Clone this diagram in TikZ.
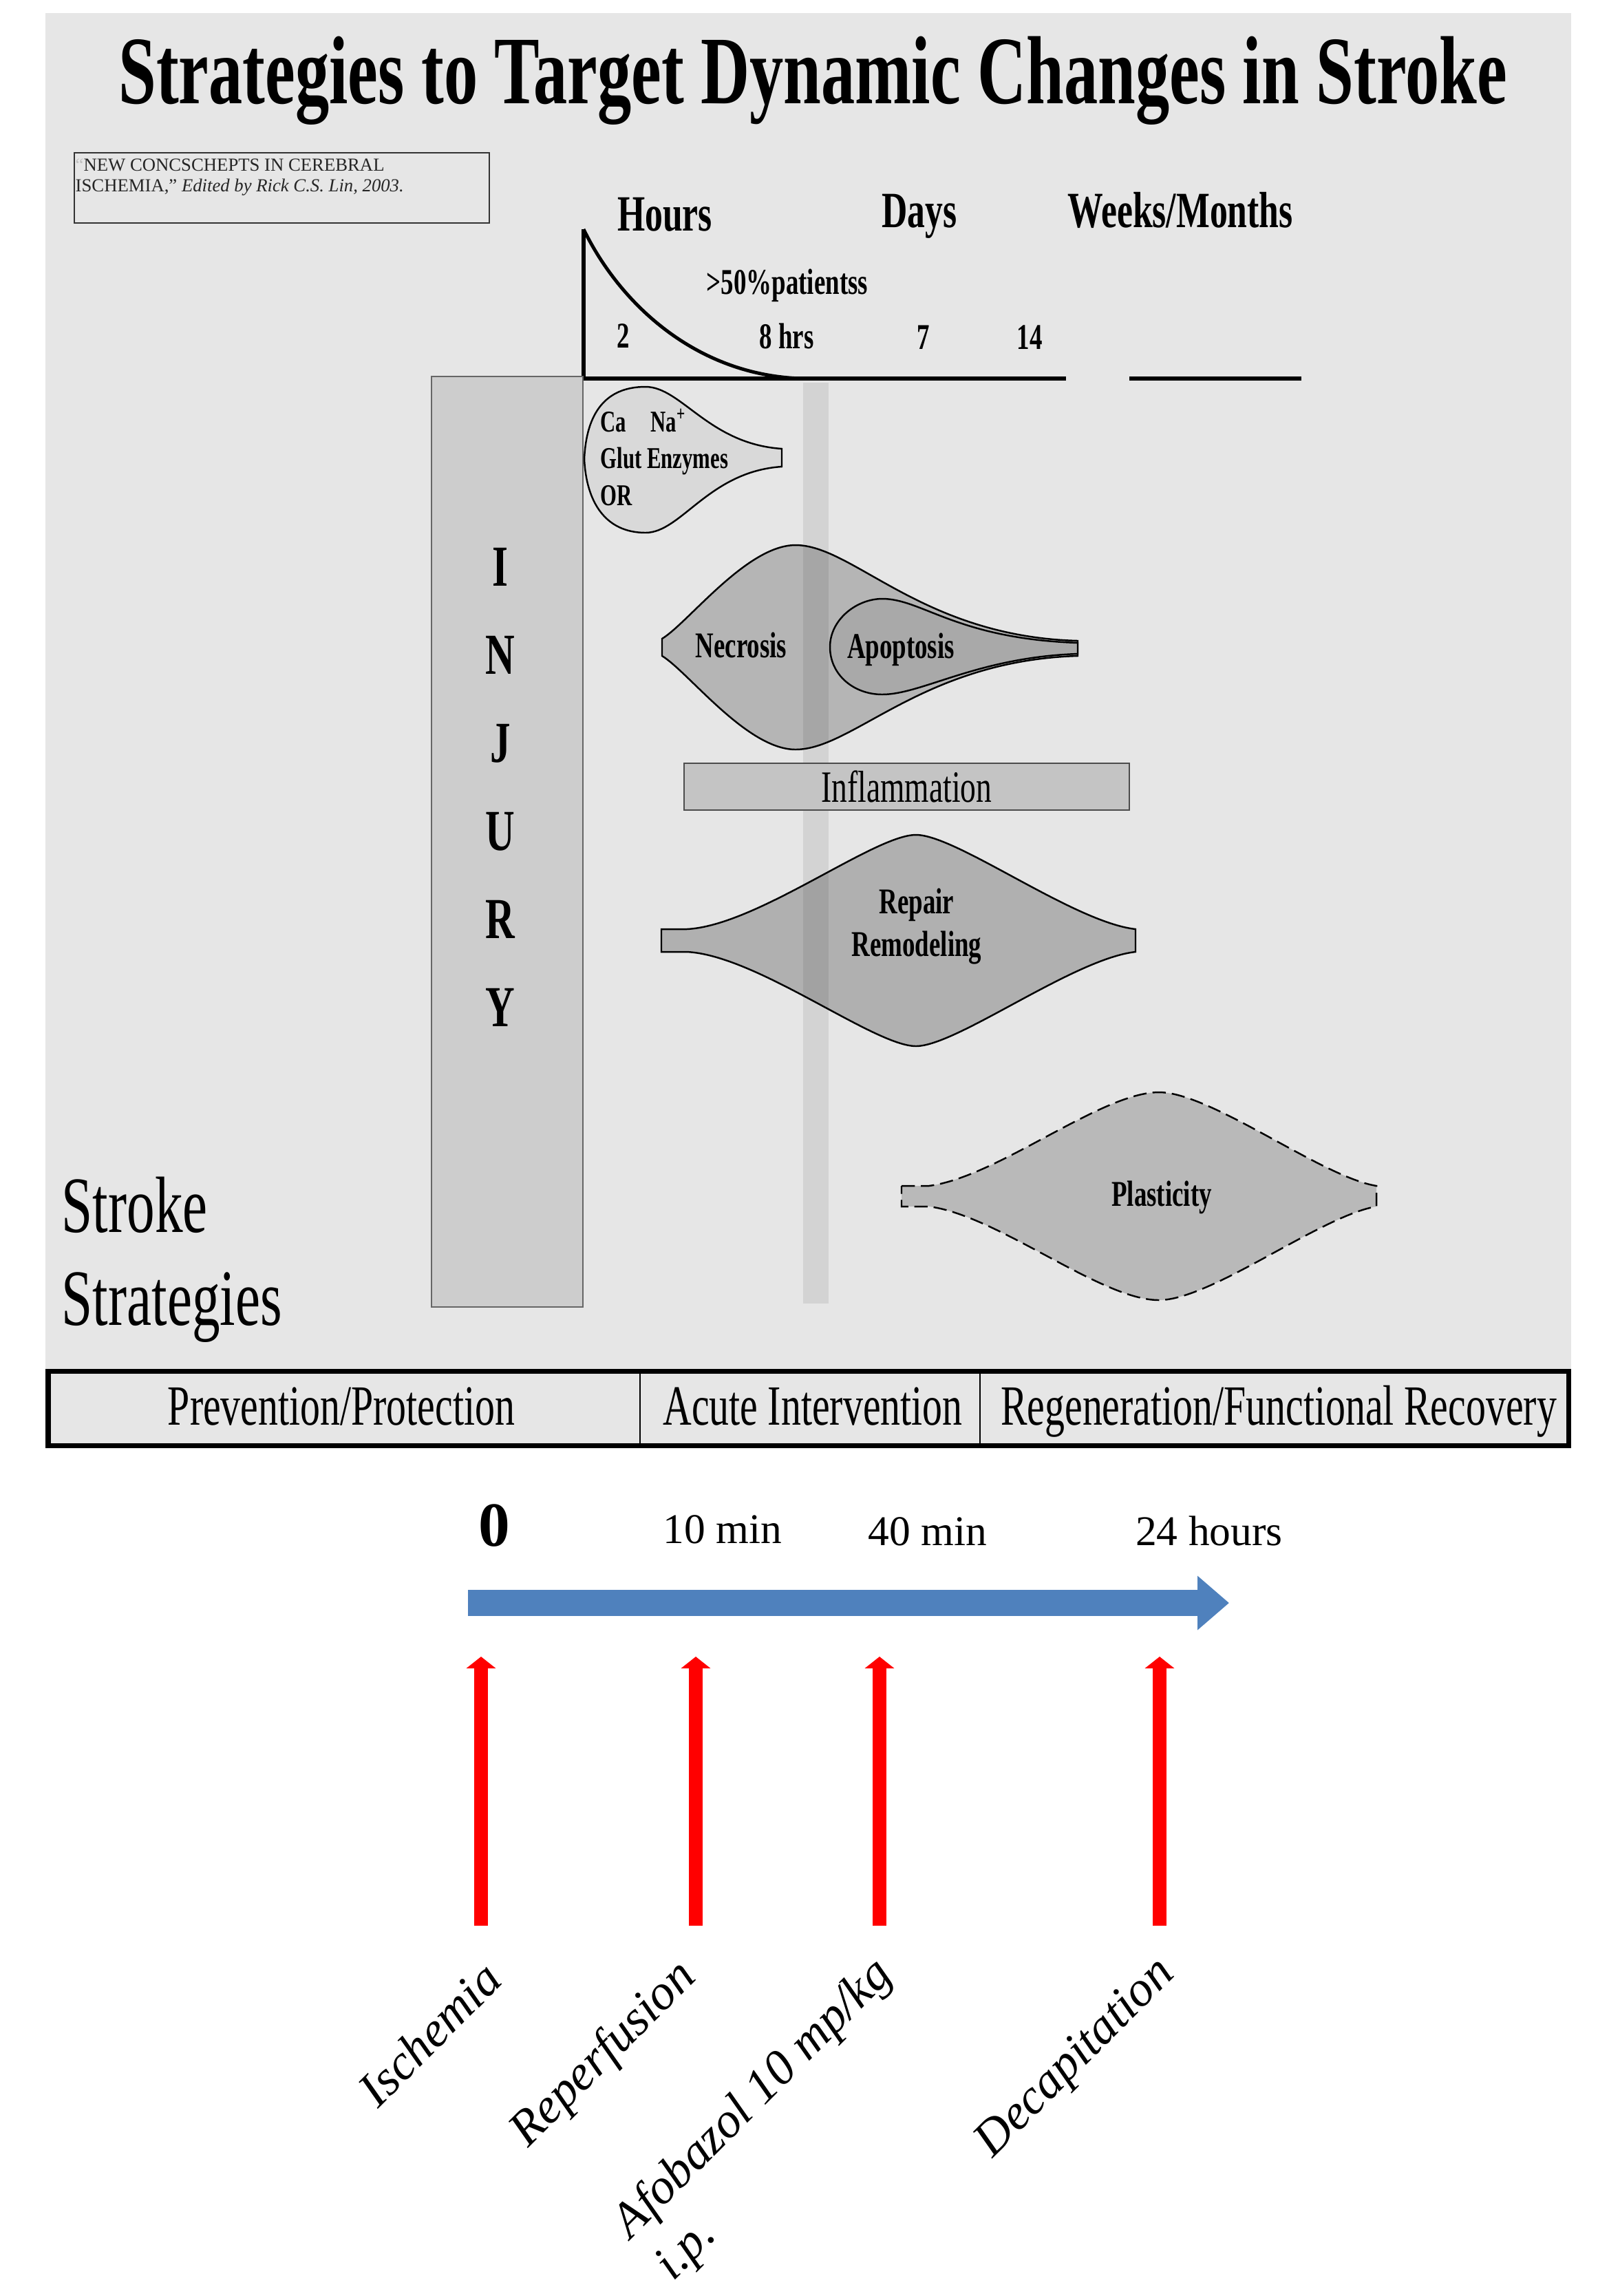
\documentclass[tikz,border=0pt]{standalone}
\usepackage{fontspec}
\setmainfont{Liberation Serif}
\newfontfamily\condserif[FakeStretch=0.7]{Liberation Serif}
\usepackage{xcolor}
\usetikzlibrary{arrows.meta,positioning}

\definecolor{panelgray}{HTML}{E6E6E6}
\definecolor{injgray}{HTML}{CDCDCD}
\definecolor{iongray}{HTML}{D9D9D9}
\definecolor{necgray}{HTML}{B5B5B5}
\definecolor{apogray}{HTML}{A9A9A9}
\definecolor{inflgray}{HTML}{C4C4C4}
\definecolor{repgray}{HTML}{B0B0B0}
\definecolor{plasgray}{HTML}{B9B9B9}
\definecolor{timeblue}{HTML}{4F81BD}

\begin{document}
\begin{tikzpicture}[x=1cm, y=-1cm,
  hdr/.style={font=\condserif\bfseries\fontsize{21}{25}\selectfont, inner sep=0pt, anchor=base},
  tick/.style={font=\condserif\bfseries\fontsize{15}{18}\selectfont, inner sep=0pt, anchor=base},
  phase/.style={font=\condserif\bfseries\fontsize{15}{17.4}\selectfont, inner sep=0pt, align=center},
  blob/.style={draw=black, line width=0.7pt},
  cell/.style={font=\condserif\fontsize{23.5}{28}\selectfont, inner sep=0pt, anchor=base},
  timelbl/.style={font=\fontsize{17.5}{21}\selectfont, inner sep=0pt, anchor=base},
  steplbl/.style={font=\itshape\fontsize{20.5}{24.6}\selectfont, inner sep=0pt, rotate=45},
  redarrow/.style={red, line width=2mm, -{Triangle[length=1.7mm, width=4.2mm]}}]

\useasboundingbox (0,0) rectangle (23.37,33.36);

% Grey panel
\fill[panelgray] (0.66,0.19) rectangle (22.83,21.05);

\node[font=\condserif\bfseries\fontsize{40}{48}\selectfont, inner sep=0pt, anchor=base] (title) at (11.81,1.50)
  {Strategies to Target Dynamic Changes in Stroke};

% Source box (base = last line)
\node[draw=black!80, line width=0.6pt, minimum width=6.03cm, minimum height=1.02cm, inner sep=0pt, anchor=north west] (cite) at (1.07,2.21) {};
\node[font=\fontsize{7.6}{8.5}\selectfont, text=black!85, inner sep=0pt, align=left, anchor=base west] (citetxt) at (1.09,2.78)
  {{\color{white!75!black}``}NEW CONCSCHEPTS IN CEREBRAL\\ISCHEMIA,'' \textit{Edited by Rick C.S. Lin, 2003.}};

% Time axis
\coordinate (ax-top) at (8.48,3.33);
\coordinate (ax-org) at (8.48,5.50);
\coordinate (ax-end) at (15.49,5.50);
\coordinate (wk-start) at (16.41,5.50);
\coordinate (wk-end) at (18.91,5.50);
\draw[line width=1.7pt] (ax-top) -- (ax-org) -- (ax-end);
\draw[line width=1.7pt] (wk-start) -- (wk-end);
\draw[line width=1.4pt] (ax-top) .. controls (9.0,4.40) and (10.1,5.45) .. (11.65,5.50);

\node[hdr] (hours) at (9.66,3.35) {Hours};
\node[hdr] (days) at (13.36,3.30) {Days};
\node[hdr] (weeks) at (17.15,3.30) {Weeks/Months};
\node[tick] (pat) at (11.44,4.27) {>50\%patientss};
\node[tick] (h2) at (9.06,5.05) {2};
\node[tick] (h8) at (11.43,5.06) {8 hrs};
\node[tick] (d7) at (13.42,5.07) {7};
\node[tick] (d14) at (14.96,5.07) {14};

% Injury bar
\node[draw=black!60, line width=0.8pt, fill=injgray, minimum width=2.2cm, minimum height=13.52cm, inner sep=0pt] (injury) at (7.37,12.23) {};
\foreach \ch [count=\i] in {I,N,J,U,R,Y}
  \node[font=\condserif\bfseries\fontsize{24}{28}\selectfont, inner sep=0pt] (inj-\i) at (7.27,6.96+1.28*\i) {\ch};

% Ion / excitotoxic blob
\draw[blob, fill=iongray] (8.49,6.67) .. controls (8.52,6.0) and (8.8,5.62) .. (9.38,5.62)
  .. controls (9.9,5.62) and (10.3,6.45) .. (11.36,6.52) -- (11.36,6.78)
  .. controls (10.3,6.85) and (9.9,7.74) .. (9.38,7.74)
  .. controls (8.8,7.74) and (8.52,7.3) .. cycle;
\node[font=\condserif\bfseries\fontsize{12.5}{15.2}\selectfont, inner sep=0pt, align=left, anchor=base west] (ions) at (8.72,7.34)
  {Ca\hspace{10pt}Na\textsuperscript{+}\\Glut Enzymes\\OR};

% Necrosis / apoptosis
\draw[blob, fill=necgray] (9.62,9.28) .. controls (10.0,9.05) and (10.85,7.92) .. (11.56,7.92)
  .. controls (12.4,7.92) and (13.4,9.25) .. (15.66,9.31) -- (15.66,9.53)
  .. controls (13.4,9.6) and (12.4,10.89) .. (11.56,10.89)
  .. controls (10.85,10.89) and (10.0,9.76) .. (9.62,9.53) -- cycle;
\draw[blob, fill=apogray] (12.06,9.40) .. controls (12.06,9.0) and (12.45,8.70) .. (12.82,8.70)
  .. controls (13.4,8.70) and (13.9,9.28) .. (15.66,9.34) -- (15.66,9.50)
  .. controls (14.2,9.55) and (13.4,10.09) .. (12.82,10.09)
  .. controls (12.4,10.09) and (12.06,9.8) .. cycle;
\node[phase] (necro) at (10.77,9.37) {Necrosis};
\node[phase] (apop) at (13.09,9.44) {Apoptosis};

% Repair
\draw[blob, fill=repgray] (9.61,13.50) -- (9.98,13.50) .. controls (11.0,13.45) and (12.7,12.13) .. (13.31,12.13)
  .. controls (13.9,12.13) and (15.6,13.40) .. (16.50,13.50) -- (16.50,13.83)
  .. controls (15.6,13.93) and (13.9,15.20) .. (13.31,15.20)
  .. controls (12.7,15.20) and (11.0,13.88) .. (9.98,13.83) -- (9.61,13.83) -- cycle;
\node[phase] (repair) at (13.32,13.46) {Repair\\Remodeling};

% Plasticity
\draw[blob, fill=plasgray, dash pattern=on 5.5pt off 2.5pt] (13.10,17.23) -- (13.50,17.23)
  .. controls (14.5,17.1) and (16.0,15.87) .. (16.84,15.87)
  .. controls (17.6,15.87) and (19.2,17.1) .. (20.00,17.23) -- (20.00,17.53)
  .. controls (19.2,17.66) and (17.6,18.89) .. (16.84,18.89)
  .. controls (16.0,18.89) and (14.5,17.66) .. (13.50,17.53) -- (13.10,17.53) -- cycle;
\node[phase] (plast) at (16.88,17.40) {Plasticity};

% 8 hrs band
\fill[black, opacity=0.08] (11.67,5.56) rectangle (12.04,18.94);

\node[draw=black!70, line width=0.7pt, fill=inflgray, minimum width=6.47cm, minimum height=0.68cm, inner sep=0pt,
  font=\condserif\fontsize{18.5}{22}\selectfont] (inflam) at (13.175,11.43) {Inflammation};

\node[font=\condserif\fontsize{33}{38.4}\selectfont, inner sep=0pt, align=left, anchor=base west] (strat) at (0.89,19.25)
  {Stroke\\Strategies};

% Strategy table
\draw[line width=2pt] (0.70,19.92) rectangle (22.79,21.00);
\draw[line width=0.8pt] (9.30,19.92) -- (9.30,21.00);
\draw[line width=0.8pt] (14.24,19.92) -- (14.24,21.00);
\node[cell] (prev) at (4.96,20.70) {Prevention/Protection};
\node[cell] (acute) at (11.81,20.70) {Acute Intervention};
\node[cell] (regen) at (18.58,20.70) {Regeneration/Functional Recovery};

% Experimental timeline
\node[font=\bfseries\fontsize{26}{30}\selectfont, inner sep=0pt, anchor=base] (t0) at (7.18,22.46) {0};
\node[timelbl] (t10) at (10.50,22.42) {10 min};
\node[timelbl] (t40) at (13.48,22.45) {40 min};
\node[timelbl] (t24) at (17.57,22.45) {24 hours};

\coordinate (tl-start) at (6.80,23.29);
\coordinate (tl-end) at (17.86,23.29);
\draw[timeblue, line width=3.8mm, -{Triangle[length=4.6mm, width=7.6mm]}] (tl-start) -- (tl-end);

\foreach \name/\x in {isc/6.99, rep/10.11, afo/12.78, dec/16.85} {
  \coordinate (\name-lo) at (\x,27.98);
  \coordinate (\name-hi) at (\x,24.07);
  \draw[redarrow] (\name-lo) -- (\name-hi);
}

\node[steplbl] (isch) at (6.24,29.55) {Ischemia};
\node[steplbl] (reperf) at (8.78,29.86) {Reperfusion};
\node[steplbl, align=left] (afob) at (11.26,30.81) {Afobazol 10 mp/kg\\i.p.};
\node[steplbl] (decap) at (15.64,29.92) {Decapitation};

\end{tikzpicture}
\end{document}
